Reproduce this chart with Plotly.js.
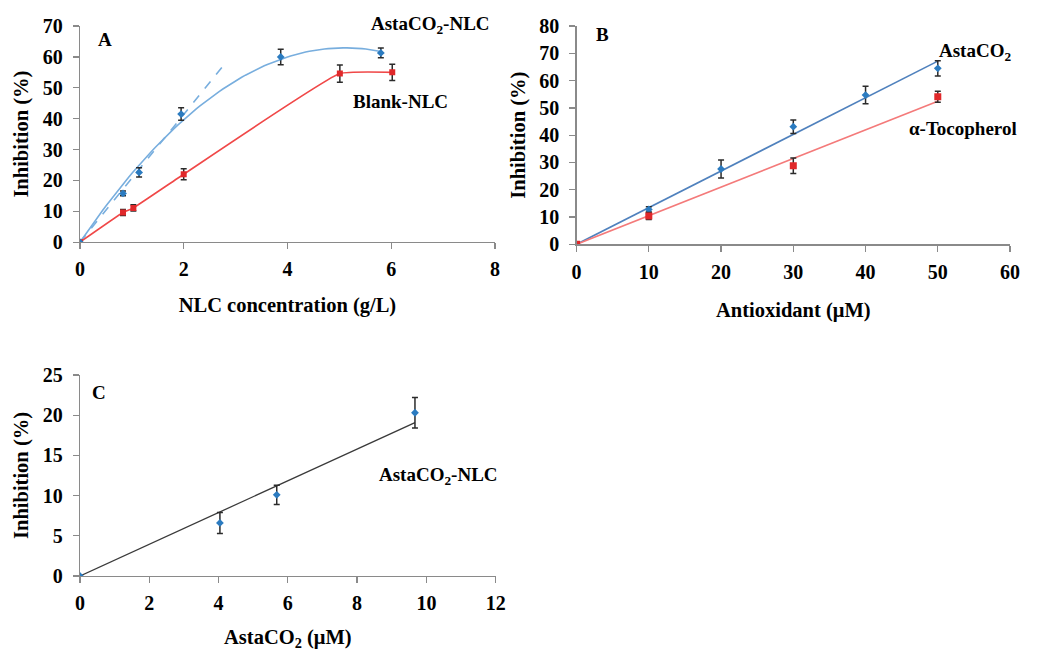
<!DOCTYPE html>
<html><head><meta charset="utf-8">
<script src="https://cdn.plot.ly/plotly-3.0.1.min.js"></script>
<style>html,body{margin:0;padding:0;background:#fff}#chart{width:1037px;height:651px}</style>
</head><body><div id="chart"></div>
<script>
// ---- Panel A: NLC concentration (g/L) vs inhibition (%)
const aAstaX = [0, 0.83, 1.14, 1.95, 3.87, 5.8];
const aAstaY = [0, 15.8, 22.6, 41.5, 60.0, 61.3];
const aAstaErr = [0, 0.8, 1.5, 2.0, 2.5, 1.6];
const aBlankX = [0, 0.83, 1.03, 2.0, 5.01, 6.02];
const aBlankY = [0, 9.6, 11.1, 22.0, 54.6, 55.0];
const aBlankErr = [0, 1.0, 1.0, 1.8, 2.8, 2.6];
// ---- Panel B: Antioxidant (µM) vs inhibition (%)
const bAstaX = [0, 10, 20, 30, 40, 50];
const bAstaY = [0, 12.8, 27.6, 43.1, 54.7, 64.5];
const bAstaErr = [0, 1.0, 3.3, 2.5, 3.2, 2.8];
const bTocoX = [0, 10, 30, 50];
const bTocoY = [0, 10.4, 28.8, 54.1];
const bTocoErr = [0, 1.3, 2.8, 2.0];
// ---- Panel C: AstaCO2 (µM) vs inhibition (%)
const cX = [0, 4.04, 5.68, 9.67];
const cY = [0, 6.6, 10.1, 20.3];
const cErr = [0, 1.3, 1.2, 1.9];

// least squares polynomial through origin (coefficients for x^1..x^n)
function polyFitOrigin(xs, ys, n){
  const A = [], b = [];
  for(let i=0;i<n;i++){A.push(new Array(n).fill(0)); b.push(0);}
  xs.forEach((x,k)=>{
    for(let i=0;i<n;i++){
      b[i] += Math.pow(x,i+1)*ys[k];
      for(let j=0;j<n;j++) A[i][j] += Math.pow(x,i+1)*Math.pow(x,j+1);
    }
  });
  for(let i=0;i<n;i++){
    let p=i; for(let r=i+1;r<n;r++) if(Math.abs(A[r][i])>Math.abs(A[p][i])) p=r;
    [A[i],A[p]]=[A[p],A[i]]; [b[i],b[p]]=[b[p],b[i]];
    for(let r=i+1;r<n;r++){const f=A[r][i]/A[i][i]; for(let c=i;c<n;c++) A[r][c]-=f*A[i][c]; b[r]-=f*b[i];}
  }
  const c=new Array(n).fill(0);
  for(let i=n-1;i>=0;i--){let s=b[i]; for(let j=i+1;j<n;j++) s-=A[i][j]*c[j]; c[i]=s/A[i][i];}
  return c;
}
function evalPoly(c,x){let s=0; c.forEach((v,i)=>s+=v*Math.pow(x,i+1)); return s;}
function curve(c, x0, x1, steps){
  const xs=[], ys=[];
  for(let i=0;i<=steps;i++){const x=x0+(x1-x0)*i/steps; xs.push(x); ys.push(evalPoly(c,x));}
  return {x:xs, y:ys};
}

const blueM = '#2b7bc0', redM = '#e0282a', errC = '#2b2b2b';
const font = '"Liberation Serif", "Times New Roman", serif';

const aQuad = polyFitOrigin(aAstaX, aAstaY, 2);
const aCurve = curve(aQuad, 0, aAstaX[aAstaX.length-1], 80);
const aLin = polyFitOrigin(aAstaX.slice(0,4), aAstaY.slice(0,4), 1);
const aDash = curve(aLin, 0, 2.82, 2);
const bAstaFit = polyFitOrigin(bAstaX, bAstaY, 1);
const bTocoFit = polyFitOrigin(bTocoX, bTocoY, 1);
const cFit = polyFitOrigin(cX, cY, 1);
const bAL = curve(bAstaFit, 0, 50, 1), bTL = curve(bTocoFit, 0, 50, 1), cL = curve(cFit, 0, cX[cX.length-1], 1);

function errBars(arr){return {type:'data', array:arr, visible:true, color:errC, thickness:1.5, width:3};}

const traces = [
  // A
  {x:aCurve.x, y:aCurve.y, mode:'lines', line:{color:'#78aede', width:1.6}, xaxis:'x', yaxis:'y', hoverinfo:'skip'},
  {x:aDash.x, y:aDash.y, mode:'lines', line:{color:'#78aede', width:1.6, dash:'dash'}, xaxis:'x', yaxis:'y', hoverinfo:'skip'},
  {x:aBlankX, y:aBlankY, mode:'lines+markers', line:{color:'#f04848', width:1.6, shape:'spline', smoothing:0.35},
   marker:{symbol:'square', size:6, color:redM}, error_y:errBars(aBlankErr), xaxis:'x', yaxis:'y'},
  {x:aAstaX, y:aAstaY, mode:'markers', marker:{symbol:'diamond', size:6, color:blueM}, error_y:errBars(aAstaErr), xaxis:'x', yaxis:'y'},
  // B
  {x:bAL.x, y:bAL.y, mode:'lines', line:{color:'#4f81bd', width:1.6}, xaxis:'x2', yaxis:'y2', hoverinfo:'skip'},
  {x:bTL.x, y:bTL.y, mode:'lines', line:{color:'#f47a7a', width:1.6}, xaxis:'x2', yaxis:'y2', hoverinfo:'skip'},
  {x:bAstaX, y:bAstaY, mode:'markers', marker:{symbol:'diamond', size:6, color:blueM}, error_y:errBars(bAstaErr), xaxis:'x2', yaxis:'y2'},
  {x:bTocoX, y:bTocoY, mode:'markers', marker:{symbol:'square', size:7, color:redM}, error_y:errBars(bTocoErr), xaxis:'x2', yaxis:'y2'},
  // C
  {x:cL.x, y:cL.y, mode:'lines', line:{color:'#3a3a3a', width:1.3}, xaxis:'x3', yaxis:'y3', hoverinfo:'skip'},
  {x:cX, y:cY, mode:'markers', marker:{symbol:'diamond', size:6, color:blueM}, error_y:errBars(cErr), xaxis:'x3', yaxis:'y3'}
];

const tickF = {family:font, size:20, color:'#000', weight:'bold'};
const titleF = {family:font, size:20.5, color:'#000', weight:'bold'};
function xax(dom, range, dtick, title, anchor, standoff){
  return {domain:dom, range:range, dtick:dtick, tick0:0, showgrid:false, zeroline:false, showline:true, linecolor:'#8a8a8a', linewidth:1.3,
    ticks:'outside', ticklen:6, tickcolor:'#8a8a8a', tickwidth:1.3, tickfont:tickF, ticklabelstandoff:3,
    tickprefix:'<b>', ticksuffix:'</b>',
    title:{text:title, font:titleF, standoff:standoff}, anchor:anchor, fixedrange:true};
}
function yax(dom, range, dtick, anchor){
  return {domain:dom, range:range, dtick:dtick, tick0:0, showgrid:false, zeroline:false, showline:true, linecolor:'#8a8a8a', linewidth:1.3,
    ticks:'outside', ticklen:6, tickcolor:'#8a8a8a', tickwidth:1.3, tickfont:tickF, ticklabelstandoff:6,
    tickprefix:'<b>', ticksuffix:'</b>',
    title:{text:'Inhibition (%)', font:titleF, standoff:8}, anchor:anchor, fixedrange:true};
}

const annF = {family:font, size:19, color:'#000', weight:'bold'};
function ann(text, x, y){return {text:text, x:x/1037, y:1-y/651, xref:'paper', yref:'paper', showarrow:false, font:annF, xanchor:'center', yanchor:'middle'};}

const layout = {
  width:1037, height:651, margin:{l:0, r:0, t:0, b:0}, paper_bgcolor:'#fff', plot_bgcolor:'#fff', showlegend:false,
  xaxis: xax([0.0771,0.4773],[0,8],2,'NLC concentration (g/L)','y',18),
  yaxis: yax([0.628,0.960],[0,70],10,'x'),
  xaxis2: xax([0.556,0.974],[0,60],10,'Antioxidant (μM)','y2',21),
  yaxis2: yax([0.6247,0.960],[0,80],10,'x2'),
  xaxis3: xax([0.0771,0.478],[0,12],2,'AstaCO<sub>2</sub> (μM)','y3',24),
  yaxis3: yax([0.1152,0.4240],[0,25],5,'x3'),
  annotations:[
    ann('A', 105, 40),
    ann('AstaCO<sub>2</sub>-NLC', 430, 25),
    ann('Blank-NLC', 400, 102),
    ann('B', 602, 34),
    ann('AstaCO<sub>2</sub>', 975, 52),
    ann('α-Tocopherol', 963, 128),
    ann('C', 99, 392),
    ann('AstaCO<sub>2</sub>-NLC', 438, 476)
  ]
};

Plotly.newPlot('chart', traces, layout, {displayModeBar:false, staticPlot:true});
</script></body></html>
